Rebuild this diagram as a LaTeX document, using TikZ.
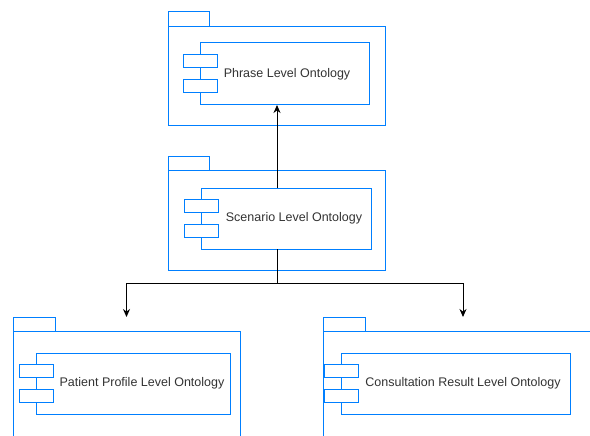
\documentclass[tikz,border=0pt]{standalone}
\usepackage{fontspec}
\setmainfont{Liberation Sans}
\usetikzlibrary{arrows.meta}
\definecolor{pkgblue}{RGB}{0,127,255}
\definecolor{lblgray}{RGB}{51,51,51}

\begin{document}
\begin{tikzpicture}[x=1pt,y=-1pt,
	pkg/.style={draw=pkgblue,line width=1pt,fill=white,inner sep=0pt,outer sep=0pt},
	comp/.style={draw=pkgblue,line width=1pt,inner sep=0pt,outer sep=0pt,minimum height=62pt},
	port/.style={draw=pkgblue,line width=1pt,fill=white,inner sep=0pt,minimum width=34pt,minimum height=13pt},
	lbl/.style={text=lblgray,font=\fontsize{12.5}{14}\selectfont,inner sep=1pt},
	conn/.style={line width=1pt,-{Stealth[length=8pt,width=7pt]}}]
			\useasboundingbox (0,0) rectangle (590,436);
			\clip (0,0) rectangle (590,436);
			
			% phrase level
			\node[pkg,minimum width=217pt,minimum height=99pt,anchor=north west] (phrasebody) at (168,27) {};
			\node[pkg,minimum width=41pt,minimum height=15pt,anchor=south west] (phrasetab) at (phrasebody.north west) {};
			\node[comp,minimum width=169pt] (phrase) at (284.5,74) {};
			\node[port,yshift=12.5pt] (phrasep1) at (phrase.west) {};
			\node[port,yshift=-12.5pt] (phrasep2) at (phrase.west) {};
			\node[lbl] (phraselbl) at (287,74) {Phrase Level Ontology};
			
			% scenario level
			\node[pkg,minimum width=217pt,minimum height=99pt,anchor=north west] (scenbody) at (168,171) {};
			\node[pkg,minimum width=41pt,minimum height=14pt,anchor=south west] (scentab) at (scenbody.north west) {};
			\node[comp,minimum width=170pt,minimum height=61pt] (scen) at (286,218.5) {};
			\node[port,yshift=12.5pt] (scenp1) at (scen.west) {};
			\node[port,yshift=-12.5pt] (scenp2) at (scen.west) {};
			\node[lbl] (scenlbl) at (294,218.5) {Scenario Level Ontology};
			
			% patient profile
			\node[pkg,minimum width=227pt,minimum height=140pt,anchor=north west] (patbody) at (13,331) {};
			\node[pkg,minimum width=42pt,minimum height=14pt,anchor=south west] (pattab) at (patbody.north west) {};
			\node[comp,minimum width=194pt,minimum height=61pt] (pat) at (133,383.5) {};
			\node[port,yshift=12.5pt] (patp1) at (pat.west) {};
			\node[port,yshift=-12.5pt] (patp2) at (pat.west) {};
			\node[lbl] (patlbl) at (142,383.5) {Patient Profile Level Ontology};
			
			% consultation result
			\node[pkg,minimum width=280pt,minimum height=140pt,anchor=north west] (conbody) at (323,331) {};
			\node[pkg,minimum width=42pt,minimum height=14pt,anchor=south west] (contab) at (conbody.north west) {};
			\node[comp,minimum width=229pt,minimum height=61pt] (con) at (455.5,383.5) {};
			\node[port,yshift=12.5pt] (conp1) at (con.west) {};
			\node[port,yshift=-12.5pt] (conp2) at (con.west) {};
			\node[lbl] (conlbl) at (463,383.5) {Consultation Result Level Ontology};
			
			% connectors
			\coordinate (trunk) at (277,0);
			\draw[conn] (scen.north -| trunk) -- (phrase.south -| trunk);
			\draw[line width=1pt] (scen.south -| trunk) -- ++(0,34) coordinate (split);
			\draw[conn] (split) -| ([yshift=14pt]patbody.north);
			\draw[conn] (split) -| ([yshift=14pt]conbody.north);
\end{tikzpicture}
\end{document}
